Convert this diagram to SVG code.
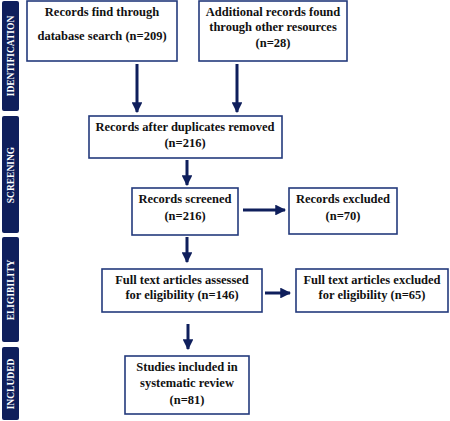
<svg xmlns="http://www.w3.org/2000/svg" width="450" height="421" viewBox="0 0 450 421">
<style>
.box{fill:#fff;stroke:#233a7c;stroke-width:1.6}
.t{font-family:"Liberation Serif",serif;font-weight:bold;font-size:12.5px;fill:#111;text-anchor:middle}
.bar{fill:#0f1f5c}
.bt{font-family:"Liberation Serif",serif;font-weight:bold;font-size:9.5px;fill:#fff;text-anchor:middle}
.c{stroke:#0f1f5c;stroke-width:3;fill:none}
</style>
<defs>
<marker id="ah" viewBox="0 0 10 10" refX="9" refY="5" markerWidth="3.6" markerHeight="3.6" markerUnits="strokeWidth" orient="auto">
<path d="M0,0 L10,5 L0,10 z" fill="#0f1f5c"/>
</marker>
</defs>
<g id="phase-identification"><rect class="bar" x="2" y="1" width="17" height="110" rx="2"/><text class="bt" transform="translate(14,56) rotate(-90)">IDENTIFICATION</text></g>
<g id="phase-screening"><rect class="bar" x="2" y="116" width="17" height="117" rx="2"/><text class="bt" transform="translate(14,175) rotate(-90)">SCREENING</text></g>
<g id="phase-eligibility"><rect class="bar" x="2" y="237" width="17" height="105" rx="2"/><text class="bt" transform="translate(14,290) rotate(-90)">ELIGIBILITY</text></g>
<g id="phase-included"><rect class="bar" x="2" y="347" width="17" height="73" rx="2"/><text class="bt" transform="translate(14,384) rotate(-90)">INCLUDED</text></g>

<g id="connectors">
<line class="c" x1="137" y1="64" x2="137" y2="112" marker-end="url(#ah)"/>
<line class="c" x1="237" y1="64" x2="237" y2="112" marker-end="url(#ah)"/>
<line class="c" x1="187" y1="160" x2="187" y2="185" marker-end="url(#ah)"/>
<line class="c" x1="243" y1="210" x2="285" y2="210" marker-end="url(#ah)"/>
<line class="c" x1="187" y1="237" x2="187" y2="262" marker-end="url(#ah)"/>
<line class="c" x1="265" y1="293" x2="290" y2="293" marker-end="url(#ah)"/>
<line class="c" x1="188" y1="324" x2="188" y2="349" marker-end="url(#ah)"/>
</g>

<g id="n1"><rect class="box" x="27" y="1" width="150" height="60"/><text class="t" x="102" y="16">Records find through</text><text class="t" x="102" y="40">database search (n=209)</text></g>
<g id="n2"><rect class="box" x="199" y="1" width="148" height="60"/><text class="t" x="273" y="16">Additional records found</text><text class="t" x="273" y="31">through other resources</text><text class="t" x="273" y="47">(n=28)</text></g>
<g id="n3"><rect class="box" x="89" y="116" width="193" height="42"/><text class="t" x="185" y="131">Records after duplicates removed</text><text class="t" x="185" y="147">(n=216)</text></g>
<g id="n4"><rect class="box" x="132" y="188" width="106" height="47"/><text class="t" x="185" y="203">Records screened</text><text class="t" x="185" y="220">(n=216)</text></g>
<g id="n5"><rect class="box" x="289" y="188" width="108" height="46"/><text class="t" x="343" y="203">Records excluded</text><text class="t" x="343" y="220">(n=70)</text></g>
<g id="n6"><rect class="box" x="102" y="269" width="160" height="43"/><text class="t" x="182" y="284">Full text articles assessed</text><text class="t" x="182" y="299">for eligibility (n=146)</text></g>
<g id="n7"><rect class="box" x="296" y="269" width="152" height="43"/><text class="t" x="372" y="284">Full text articles excluded</text><text class="t" x="372" y="299">for eligibility (n=65)</text></g>
<g id="n8"><rect class="box" x="125" y="356" width="124" height="58"/><text class="t" x="187" y="371">Studies included in</text><text class="t" x="187" y="387">systematic review</text><text class="t" x="187" y="404">(n=81)</text></g>
</svg>
